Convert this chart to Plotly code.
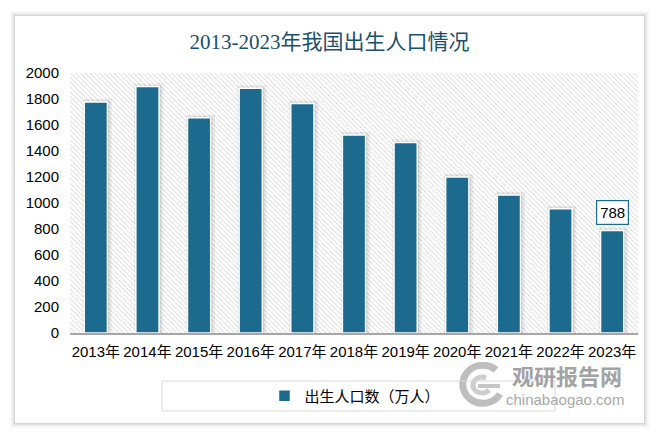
import base64
import plotly.graph_objects as go

years = ["2013年", "2014年", "2015年", "2016年", "2017年", "2018年",
         "2019年", "2020年", "2021年", "2022年", "2023年"]
births = [1776, 1897, 1655, 1883, 1765, 1523, 1465, 1200, 1062, 956, 788]
series_name = "出生人口数（万人）"
title_text = "2013-2023年我国出生人口情况"
y_ticks = list(range(0, 2001, 200))

W, H = 659, 437
L, R, T, B = 70, 21, 73, 104
PW, PH = W - L - R, H - T - B
BAR = "#1c6b8e"


def px2x(px):
    return (px - L) / PW


def px2y(py):
    return (T + PH - py) / PH


def svg_uri(svg):
    return "data:image/svg+xml;base64," + base64.b64encode(svg.encode()).decode()


fig = go.Figure()

# soft shadow behind bars
fig.add_trace(go.Bar(
    x=years, y=births, width=0.45, offset=-0.2,
    marker=dict(color="rgba(0,0,0,0.10)", line=dict(color="rgba(0,0,0,0.07)", width=6)),
    showlegend=False, hoverinfo="skip"))
fig.add_trace(go.Bar(
    x=years, y=births, width=0.45, offset=-0.21,
    marker=dict(color="rgba(0,0,0,0.08)", line=dict(color="rgba(0,0,0,0.05)", width=3)),
    showlegend=False, hoverinfo="skip"))
fig.add_trace(go.Bar(
    x=years, y=births, name=series_name, width=0.45, offset=-0.225,
    marker=dict(color=BAR, line=dict(color="white", width=1.5))))

# card shadow rings
shapes = []
cx0, cy0, cx1, cy1 = 15, 16, 644, 422
alphas = [0.16, 0.11, 0.07, 0.045, 0.025, 0.012]
for i, a in enumerate(alphas):
    ox0, oy0, ox1, oy1 = cx0 - i - 1, cy0 - i - 1, cx1 + i + 1, cy1 + i + 2
    ix0, iy0, ix1, iy1 = cx0 - i, cy0 - i, cx1 + i, cy1 + i + 1
    path = (f"M {px2x(ox0)} {px2y(oy0)} L {px2x(ox1)} {px2y(oy0)} L {px2x(ox1)} {px2y(oy1)} "
            f"L {px2x(ox0)} {px2y(oy1)} Z "
            f"M {px2x(ix0)} {px2y(iy0)} L {px2x(ix0)} {px2y(iy1)} L {px2x(ix1)} {px2y(iy1)} "
            f"L {px2x(ix1)} {px2y(iy0)} Z")
    shapes.append(dict(type="path", xref="paper", yref="paper", path=path,
                       fillcolor=f"rgba(0,0,0,{a})", line=dict(width=0), layer="below"))

# legend box
shapes.append(dict(type="rect", xref="paper", yref="paper",
                   x0=px2x(162), x1=px2x(555), y0=px2y(381), y1=px2y(411),
                   line=dict(color="#d9d9d9", width=1), fillcolor="rgba(0,0,0,0)"))

hatch = (f'<svg xmlns="http://www.w3.org/2000/svg" width="{PW}" height="{PH}">'
         '<defs><pattern id="p" width="3.4" height="3.4" patternUnits="userSpaceOnUse" '
         'patternTransform="rotate(-45)"><line x1="0" y1="0" x2="0" y2="3.4" '
         'stroke="#d2d2d2" stroke-width="1.3"/></pattern></defs>'
         '<rect width="100%" height="100%" fill="white"/>'
         '<rect width="100%" height="100%" fill="url(#p)"/></svg>')

logo = ('<svg xmlns="http://www.w3.org/2000/svg" width="50" height="46" viewBox="0 0 50 46">'
        '<path d="M40 8 A20 19 0 1 0 44 32" fill="none" stroke="#b8b8b8" stroke-width="7"/>'
        '<path d="M30 16 A9 8 0 1 0 33 28" fill="none" stroke="#c8c8c8" stroke-width="5"/>'
        '<path d="M22 24 L44 24" stroke="#c0c0c0" stroke-width="4"/></svg>')

images = [
    dict(source=svg_uri(hatch), xref="paper", yref="paper", x=0, y=1,
         sizex=1, sizey=1, sizing="stretch", layer="below", xanchor="left", yanchor="top"),
    dict(source=svg_uri(logo), xref="paper", yref="paper", x=px2x(456), y=px2y(362),
         sizex=50 / PW, sizey=46 / PH, sizing="stretch", layer="above",
         xanchor="left", yanchor="top", opacity=0.9),
]

annotations = [
    dict(x=years[-1], y=births[-1], text=str(births[-1]), showarrow=False,
         yanchor="bottom", yshift=6, bgcolor="white", bordercolor=BAR,
         borderwidth=1.2, borderpad=3,
         font=dict(family="Liberation Sans, Noto Sans CJK SC", size=15, color="black")),
    dict(x=px2x(567), y=px2y(375), xref="paper", yref="paper", text="<b>观研报告网</b>",
         xanchor="center", yanchor="middle",
         showarrow=False, font=dict(family="Noto Sans CJK SC", size=22, color="#9e9e9e"),
         opacity=0.95),
    dict(x=px2x(565), y=px2y(399), xref="paper", yref="paper", text="chinabaogao.com",
         xanchor="center", yanchor="middle",
         showarrow=False, font=dict(family="Liberation Sans, DejaVu Sans", size=15, color="#a8a8a8")),
]

fig.update_layout(
    width=W, height=H,
    margin=dict(l=L, r=R, t=T, b=B),
    paper_bgcolor="white", plot_bgcolor="rgba(0,0,0,0)",
    barmode="overlay",
    title=dict(text=title_text, x=0.5, xref="container", xanchor="center",
               y=1 - 42 / H, yref="container", yanchor="middle",
               font=dict(family="Liberation Serif, Noto Sans CJK SC", size=21, color="#1b4f6e")),
    xaxis=dict(showline=True, linecolor="#a6a6a6", linewidth=1.5, showgrid=False,
               ticks="", ticklabelstandoff=4,
               tickfont=dict(family="Liberation Sans, Noto Sans CJK SC", size=15, color="black")),
    yaxis=dict(range=[0, 2000], tickvals=y_ticks, showgrid=False, zeroline=False,
               showline=False, ticks="", ticklabelstandoff=10,
               tickfont=dict(family="Liberation Sans, Noto Sans CJK SC", size=15, color="black")),
    legend=dict(orientation="h", x=px2x(355), xanchor="center", y=px2y(396), yanchor="middle",
                font=dict(family="Noto Sans CJK SC", size=15, color="black"),
                bgcolor="rgba(0,0,0,0)"),
    shapes=shapes, images=images, annotations=annotations,
    showlegend=True,
)

fig.write_html("out.html")
